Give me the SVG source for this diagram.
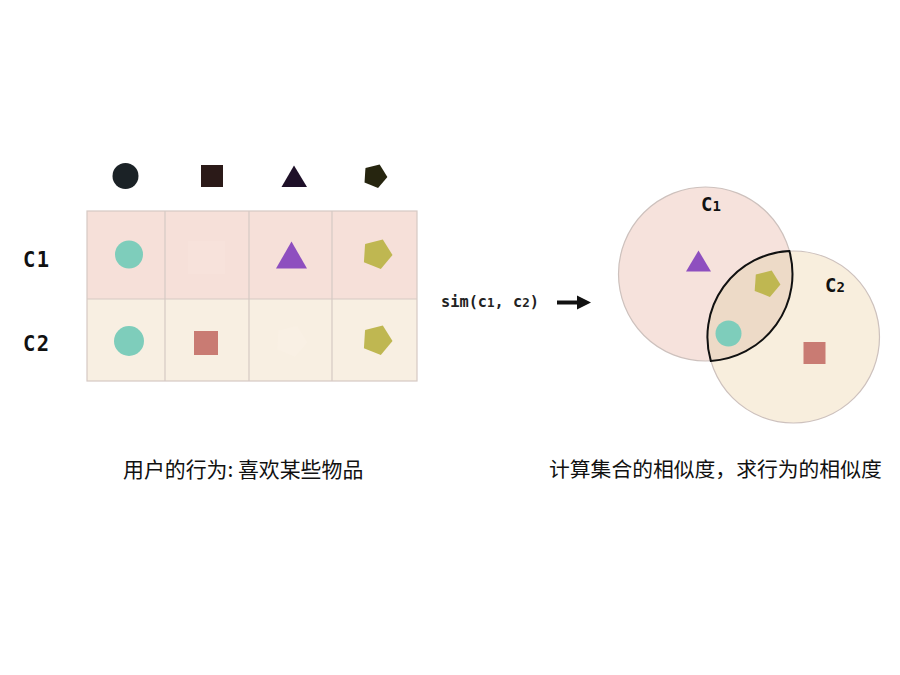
<svg xmlns="http://www.w3.org/2000/svg" width="900" height="675" viewBox="0 0 900 675">
<style>
.lbl{font-family:"DejaVu Sans Mono","Liberation Mono",monospace;font-weight:bold;fill:#111}
.mono{font-family:"DejaVu Sans Mono","Liberation Mono",monospace;font-weight:bold;fill:#222}
.cjk{font-family:"Noto Sans CJK SC","Noto Sans",sans-serif;fill:#111}
.grid{stroke:#d6c9c4;stroke-width:1.2}
.teal{fill:#7ecdbb}.purple{fill:#8e4fbf}.olive{fill:#bfb751}.rose{fill:#c97b73}
</style>
<defs>
<polygon id="pent" points="15.5,1.1 3.8,15 -13.1,8.2 -11.9,-10 5.8,-14.4"/>
</defs>
<rect width="900" height="675" fill="#ffffff"/>

<g id="header-icons">
<circle cx="125.5" cy="176" r="13" fill="#1b2226"/>
<rect x="201" y="165" width="22" height="22" fill="#2b1a18"/>
<polygon points="294,165.5 281.5,187 307,187" fill="#1e1028"/>
<use href="#pent" transform="translate(375,176) scale(0.8)" fill="#26250f"/>
</g>

<g id="table">
<rect x="87" y="211" width="330" height="88" fill="#f6e0d9"/>
<rect x="87" y="299" width="330" height="82" fill="#f8efe2"/>
<rect x="87" y="211" width="330" height="170" fill="none" class="grid"/>
<line x1="87" y1="299" x2="417" y2="299" class="grid"/>
<line x1="165" y1="211" x2="165" y2="381" class="grid"/>
<line x1="249" y1="211" x2="249" y2="381" class="grid"/>
<line x1="332" y1="211" x2="332" y2="381" class="grid"/>
</g>

<g id="row-c1">
<text x="23" y="267" class="lbl" font-size="20.5" letter-spacing="1.5">C1</text>
<circle cx="129" cy="254.5" r="14" class="teal"/>
<rect x="188" y="241" width="37" height="33" fill="#f7e2db"/>
<polygon points="291.5,241.5 276,268.5 307,268.5" class="purple"/>
<use href="#pent" transform="translate(377,254)" class="olive"/>
</g>

<g id="row-c2">
<text x="23" y="351" class="lbl" font-size="20.5" letter-spacing="1.5">C2</text>
<circle cx="129" cy="341" r="15" class="teal"/>
<rect x="194" y="331" width="24" height="24" class="rose"/>
<use href="#pent" transform="translate(291,341) scale(1.05)" fill="#f9f0e4"/>
<use href="#pent" transform="translate(377,340)" class="olive"/>
</g>

<g id="sim-label">
<text x="441" y="307" class="mono" font-size="15.3">sim(c<tspan font-size="12.5">1</tspan>, c<tspan font-size="12.5">2</tspan>)</text>
</g>

<g id="connectors">
<line x1="557" y1="302.5" x2="580" y2="302.5" stroke="#111" stroke-width="4"/>
<polygon points="577,295.5 591,302.5 577,309.5" fill="#111"/>
</g>

<g id="venn-c1">
<circle cx="705.5" cy="274" r="87" fill="#f6e2dc" stroke="#cdc1bd" stroke-width="1.2"/>
</g>
<g id="venn-c2">
<circle cx="793.5" cy="337" r="86" fill="#f8eddc" fill-opacity="0.97" stroke="#cdc1bd" stroke-width="1.2"/>
</g>
<g id="venn-intersection">
<path d="M789.4,251.1 A87,87 0 0 1 710.8,360.9 A86,86 0 0 1 789.4,251.1 Z" fill="#eddac7" stroke="#111" stroke-width="2"/>
</g>
<g id="venn-items">
<text x="701" y="211" class="lbl" font-size="19">C<tspan font-size="14">1</tspan></text>
<text x="825" y="292" class="lbl" font-size="19">C<tspan font-size="14">2</tspan></text>
<polygon points="698.5,250.5 686,271.5 711,271.5" class="purple"/>
<use href="#pent" transform="translate(766.5,283.5) scale(0.9)" class="olive"/>
<circle cx="728.5" cy="333.5" r="13" class="teal"/>
<rect x="803.5" y="342" width="22" height="22" class="rose"/>
</g>

<g id="captions">
<text x="123" y="477" class="cjk" font-size="20.9">用户的行为: 喜欢某些物品</text>
<text x="549" y="477" class="cjk" font-size="20.8">计算集合的相似度，求行为的相似度</text>
</g>
</svg>
